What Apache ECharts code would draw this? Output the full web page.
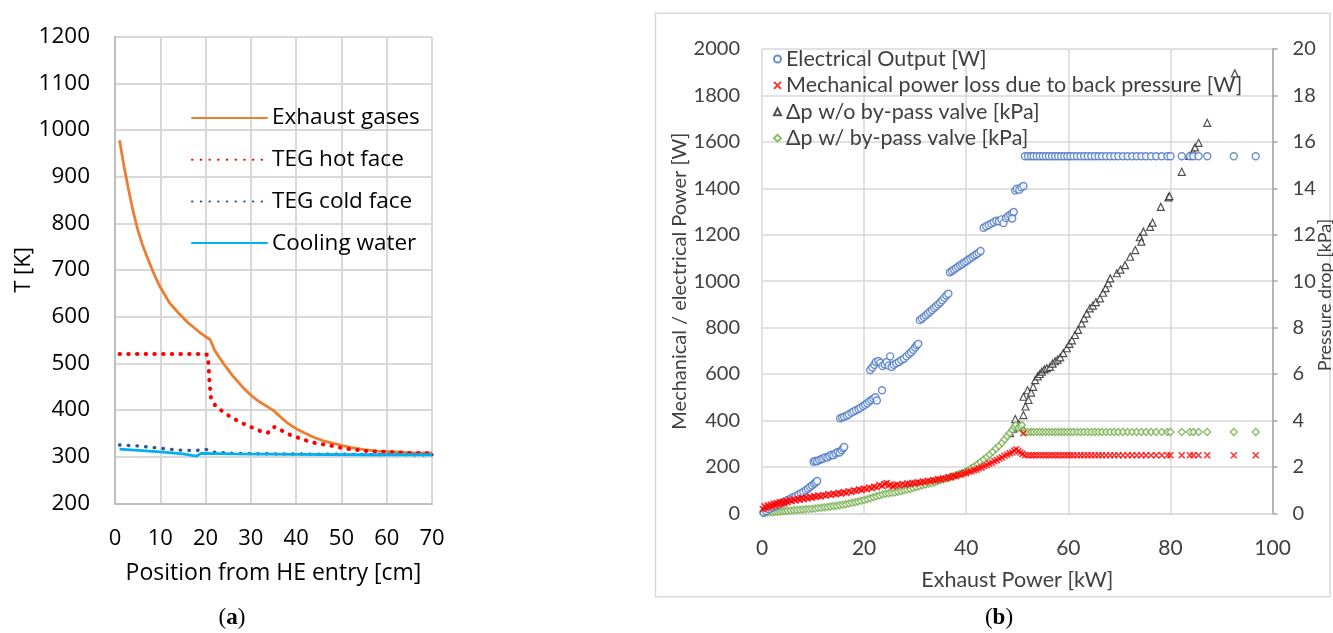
<!DOCTYPE html>
<html>
<head>
<meta charset="utf-8">
<script src="https://cdn.jsdelivr.net/npm/echarts@6/dist/echarts.min.js"></script>
<style>
  html, body { margin: 0; padding: 0; background: #fff; }
  #chart { width: 1333px; height: 633px; }
</style>
</head>
<body>
<div id="chart"></div>
<script>
// ---------- (a) temperature profiles along the heat exchanger [cm, K] ----------
const exhaustGases = [[1,978],[2,922],[3,872],[4,826],[5,787],[6,756],[7,730],[8,706],[9,683],[10,663],
  [11,647],[12,630],[13,619],[14,608],[15,598],[16,588],[17,580],[18,572],[19,564],[20,557],[21,551],
  [22,528],[23,513],[24,499],[25,486],[26,473],[27,462],[28,451],[29,441],[30,432],[31,424],[32,417],
  [33,411],[34,405],[35,399],[36,390],[37,381],[38,373],[39,366],[40,360],[42,350],[44,341],[46,334],
  [48,329],[50,324],[52,320],[55,315],[58,312],[62,310],[66,308],[70,308]];
const tegHotFace = [[1,520],[20,520],[20.5,517],[20.7,490],[20.9,455],[21.2,425],[22.3,407],[23.9,396],
  [25.4,386],[27.2,376],[28.9,368],[30.6,361],[32.3,354],[33.6,351],[34.4,354],[35.2,364],[36.2,359],
  [37,355],[38.8,346],[40.6,340],[42.4,334],[44.3,329],[46.2,326],[48,323],[49.9,319],[51.9,316],
  [53.7,314],[55.5,312],[60,310],[65,308],[70,307]];
const tegColdFace = [[1,325],[5,323],[10,318],[14,314],[18,313],[20,316],[21.5,310],[26,307],[34,306],
  [50,305],[70,304]];
const coolingWater = [[1,316],[10,310],[15,306],[18,301],[19,307],[26,306],[40,305],[55,304],[70,304]];

// ---------- (b) power and pressure drop vs exhaust power [kW] ----------
const electricalOutput = [
  [0.3,4],[0.8,10],[1.4,17],[2.0,24],[2.6,30],[3.2,37],[3.8,44],[4.4,50],[5.0,57],[5.6,63],[6.1,69],
  [6.6,74],[7.1,80],[7.6,86],[8.1,92],[8.6,99],[9.0,106],[9.4,113],[9.8,120],[10.2,127],[10.5,133],[10.8,139],
  [10.1,222],[10.4,226],[10.8,224],[11.2,230],[11.6,233],[12.0,236],[12.4,242],[12.8,240],[13.2,247],
  [13.6,252],[14.0,250],[14.4,258],[14.8,264],[15.2,262],[15.6,272],[15.9,280],[16.1,286],
  [15.3,409],[15.7,413],[16.1,416],[16.6,420],[17.0,426],[17.5,433],[17.9,438],[18.4,444],[18.9,449],
  [19.3,455],[19.8,462],[20.2,468],[20.6,474],[21.0,482],[21.4,488],[21.8,494],[22.2,500],[22.5,486],[23.5,530],
  [21.2,617],[21.6,628],[22.0,640],[22.3,652],[22.8,656],[23.2,648],[23.6,634],[24.0,642],[24.4,652],
  [24.8,636],[25.1,676],[25.4,630],[25.8,640],[26.3,646],[26.8,652],[27.3,660],[27.8,666],[28.3,676],
  [28.8,686],[29.2,694],[29.6,704],[30.0,714],[30.3,724],[30.6,730],
  [30.9,832],[31.3,838],[31.7,846],[32.1,853],[32.5,861],[32.9,868],[33.3,876],[33.7,884],[34.1,892],
  [34.5,900],[34.9,908],[35.3,918],[35.7,928],[36.1,938],[36.5,946],
  [36.8,1038],[37.2,1044],[37.6,1050],[38.0,1056],[38.4,1062],[38.8,1068],[39.2,1074],[39.6,1080],
  [40.0,1086],[40.4,1092],[40.8,1098],[41.2,1104],[41.6,1110],[42.0,1116],[42.4,1122],[42.8,1130],
  [43.4,1230],[43.9,1236],[44.4,1242],[44.9,1248],[45.4,1254],[45.9,1260],[46.4,1258],[46.9,1266],
  [47.3,1250],[47.8,1272],[48.2,1280],[48.6,1286],[49.0,1292],[49.3,1298],[49.0,1270],
  [49.6,1390],[49.9,1398],[50.4,1394],[50.8,1404],[51.2,1410],
  [51.5,1538],[52.1,1538],[52.7,1538],[53.2,1538],[53.8,1538],[54.4,1538],[55.0,1538],[55.6,1538],
  [56.2,1538],[56.8,1538],[57.4,1538],[58.0,1538],[58.6,1538],[59.2,1538],[59.8,1538],[60.4,1538],
  [61.0,1538],[61.7,1538],[62.4,1538],[63.1,1538],[63.8,1538],[64.5,1538],[65.2,1538],[65.9,1538],
  [66.6,1538],[67.4,1538],[68.2,1538],[69.0,1538],[69.8,1538],[70.7,1538],[71.6,1538],[72.5,1538],
  [73.4,1538],[74.3,1538],[75.2,1538],[76.2,1538],[77.2,1538],[78.3,1538],[79.4,1538],[80.0,1538],
  [82.2,1538],[83.8,1538],[84.5,1538],[85.5,1538],[87.2,1538],[92.4,1538],[96.7,1538]];

const mechanicalLoss = [
  [0.2,18],[0.5,30],[0.8,22],[1.1,34],[1.4,26],[1.7,38],[2.0,30],[2.3,42],[2.6,34],[2.9,44],[3.2,38],
  [3.5,48],[3.8,41],[4.1,50],[4.4,44],[4.7,54],[5.0,48],[5.4,57],[5.8,52],[6.2,60],[6.6,55],[7.0,63],
  [7.4,58],[7.8,66],[8.2,61],[8.6,68],[9.0,64],[9.4,71],[9.8,67],[10.2,74],[10.6,70],[11.0,76],[11.5,73],
  [12.0,79],[12.5,76],[13.0,82],[13.5,79],[14.0,85],[14.5,82],[15.0,88],[15.5,85],[16.0,91],[16.5,88],
  [17.0,95],[17.5,92],[18.0,99],[18.5,96],[19.0,103],[19.5,100],[20.0,107],[20.5,104],[21.0,111],
  [21.5,108],[22.0,115],[22.5,112],[23.0,122],[23.5,118],[24.0,126],[24.4,130],[24.8,120],[25.2,124],
  [25.6,116],[26.0,120],[26.5,124],[27.0,121],[27.5,126],[28.0,123],[28.5,128],[29.0,126],[29.5,131],
  [30.0,129],[30.5,134],[31.0,132],[31.5,137],[32.0,135],[32.5,140],[33.0,138],[33.5,143],[34.0,142],
  [34.5,147],[35.0,146],[35.5,151],[36.0,150],[36.5,156],[37.0,155],[37.5,161],[38.0,160],[38.5,166],
  [39.0,166],[39.5,172],[40.0,173],[40.5,179],[41.0,180],[41.5,186],[42.0,188],[42.5,194],[43.0,197],
  [43.5,204],[44.0,207],[44.5,214],[45.0,218],[45.5,225],[46.0,229],[46.5,236],[47.0,241],[47.5,248],
  [48.0,252],[48.5,258],[49.0,262],[49.4,270],[49.8,276],[50.2,268],[50.6,262],[51.0,256],[51.2,345],
  [51.5,250],[52.1,250],[52.7,250],[53.2,250],[53.8,250],[54.4,250],[55.0,250],[55.6,250],
  [56.2,250],[56.8,250],[57.4,250],[58.0,250],[58.6,250],[59.2,250],[59.8,250],[60.4,250],
  [61.0,250],[61.7,250],[62.4,250],[63.1,250],[63.8,250],[64.5,250],[65.2,250],[65.9,250],
  [66.6,250],[67.4,250],[68.2,250],[69.0,250],[69.8,250],[70.7,250],[71.6,250],[72.5,250],
  [73.4,250],[74.3,250],[75.2,250],[76.2,250],[77.2,250],[78.3,250],[79.4,250],[80.0,250],
  [82.2,250],[83.8,250],[84.5,250],[85.5,250],[87.2,250],[92.4,250],[96.7,250]];

const dpWithoutBypass = [
  [48.6,3.45],[49.2,3.65],[49.6,4.06],[50.3,3.85],[50.9,3.73],[51.2,4.23],[51.2,5.02],[51.6,4.6],
  [52.0,5.3],[52.2,4.88],[52.7,5.2],[53.1,5.45],[53.5,5.74],[54.0,5.9],[54.4,6.0],[54.8,6.1],[55.3,6.2],
  [55.8,6.25],[56.4,6.31],[56.9,6.45],[57.4,6.55],[57.9,6.62],[58.4,6.72],[59.0,6.9],[59.7,7.11],
  [60.2,7.3],[60.7,7.45],[61.3,7.68],[61.9,7.9],[62.6,8.18],[63.1,8.4],[63.6,8.6],[64.2,8.83],
  [64.8,8.95],[65.4,9.1],[66.2,9.26],[66.8,9.5],[67.3,9.7],[67.8,9.91],[68.2,10.12],[69.5,10.34],
  [70.2,10.5],[71.1,10.69],[72.1,11.05],[73.1,11.34],[74.0,11.89],[74.3,11.7],[74.7,12.13],[76.0,12.34],
  [76.5,12.52],[78.1,13.2],[79.6,13.61],[79.8,13.66],[82.2,14.71],[83.7,15.39],[84.2,15.45],[84.4,15.57],
  [84.8,15.76],[85.5,15.96],[87.2,16.82],[92.6,18.95]];

const dpWithBypass = [
  [0.2,0.0],[0.6,0.02],[1.0,0.03],[1.5,0.04],[2.0,0.05],[2.5,0.06],[3.0,0.07],[3.5,0.08],[4.0,0.09],
  [4.5,0.10],[5.0,0.11],[5.6,0.12],[6.2,0.13],[6.8,0.14],[7.4,0.15],[8.0,0.16],[8.6,0.17],[9.2,0.18],
  [9.8,0.20],[10.4,0.21],[11.0,0.23],[11.6,0.24],[12.2,0.26],[12.8,0.27],[13.4,0.29],[14.0,0.31],
  [14.6,0.33],[15.2,0.35],[15.8,0.37],[16.4,0.39],[17.0,0.42],[17.6,0.45],[18.2,0.48],[18.8,0.51],
  [19.4,0.54],[20.0,0.57],[20.6,0.61],[21.2,0.65],[21.8,0.69],[22.4,0.73],[23.0,0.77],[23.6,0.81],
  [24.2,0.84],[24.8,0.86],[25.4,0.88],[26.0,0.90],[26.6,0.93],[27.2,0.96],[27.8,0.99],[28.4,1.02],
  [29.0,1.05],[29.6,1.09],[30.2,1.13],[30.8,1.17],[31.4,1.21],[32.0,1.24],[32.6,1.27],[33.2,1.30],
  [33.8,1.34],[34.4,1.38],[35.0,1.42],[35.6,1.46],[36.2,1.50],[36.8,1.54],[37.4,1.59],[38.0,1.64],
  [38.6,1.69],[39.2,1.74],[39.8,1.79],[40.4,1.86],[41.0,1.94],[41.6,2.02],[42.2,2.11],[42.8,2.21],
  [43.4,2.32],[44.0,2.42],[44.6,2.53],[45.2,2.65],[45.8,2.78],[46.4,2.91],[47.0,3.04],[47.5,3.18],
  [48.0,3.32],[48.5,3.46],[49.0,3.60],[49.4,3.72],[49.7,3.80],[50.2,3.68],[50.6,3.74],[50.9,3.80],
  [51.2,3.55],
  [51.5,3.5],[52.1,3.5],[52.7,3.5],[53.2,3.5],[53.8,3.5],[54.4,3.5],[55.0,3.5],[55.6,3.5],
  [56.2,3.5],[56.8,3.5],[57.4,3.5],[58.0,3.5],[58.6,3.5],[59.2,3.5],[59.8,3.5],[60.4,3.5],
  [61.0,3.5],[61.7,3.5],[62.4,3.5],[63.1,3.5],[63.8,3.5],[64.5,3.5],[65.2,3.5],[65.9,3.5],
  [66.6,3.5],[67.4,3.5],[68.2,3.5],[69.0,3.5],[69.8,3.5],[70.7,3.5],[71.6,3.5],[72.5,3.5],
  [73.4,3.5],[74.3,3.5],[75.2,3.5],[76.2,3.5],[77.2,3.5],[78.3,3.5],[79.4,3.5],[80.0,3.5],
  [82.2,3.5],[83.8,3.5],[84.5,3.5],[85.5,3.5],[87.2,3.5],[92.4,3.5],[96.7,3.5]];

const FONT_A = 'Open Sans';
const FONT_B = 'Lato';
const GRID_LINE = '#d9d9d9';
const CROSS = 'path://M0,0L10,10M10,0L0,10';
const plainNumber = v => String(v);

const chart = echarts.init(document.getElementById('chart'), null, { renderer: 'canvas' });

chart.setOption({
  animation: false,
  backgroundColor: '#ffffff',
  grid: [
    { left: 115, top: 36.7, width: 317, height: 466.6 },
    { left: 762, top: 49, width: 510.6, height: 464.3 }
  ],
  legend: [
    {
      data: ['Exhaust gases', 'TEG hot face', 'TEG cold face', 'Cooling water'],
      orient: 'vertical', left: 191, top: 104, padding: 0,
      itemWidth: 75, itemHeight: 14, itemGap: 13.7,
      itemStyle: { opacity: 0 },
      lineStyle: { cap: 'round' },
      textStyle: { fontFamily: FONT_A, fontSize: 22.5, color: '#000', lineHeight: 28 }
    },
    {
      data: ['Electrical Output [W]', 'Mechanical power loss due to back pressure [W]',
             'Δp w/o by-pass valve [kPa]', 'Δp w/ by-pass valve [kPa]'],
      orient: 'vertical', left: 773, top: 48, padding: 0,
      itemWidth: 7, itemHeight: 7, itemGap: 4.4,
      textStyle: { fontFamily: FONT_B, fontSize: 21.5, color: '#404040', lineHeight: 21 }
    }
  ],
  xAxis: [
    {
      gridIndex: 0, type: 'value', min: 0, max: 70, interval: 10,
      axisLine: { show: true, lineStyle: { color: '#bfbfbf', width: 2 } },
      axisTick: { show: false },
      splitLine: { show: true, lineStyle: { color: GRID_LINE, width: 2 } },
      axisLabel: { fontFamily: FONT_A, fontSize: 22, color: '#000', margin: 24, formatter: plainNumber },
      name: 'Position from HE entry [cm]', nameLocation: 'middle', nameGap: 59,
      nameTextStyle: { fontFamily: FONT_A, fontSize: 23, color: '#000' }
    },
    {
      gridIndex: 1, type: 'value', min: 0, max: 100, interval: 20,
      axisLine: { show: true, lineStyle: { color: GRID_LINE, width: 1.5 } },
      axisTick: { show: false },
      splitLine: { show: true, lineStyle: { color: GRID_LINE, width: 1.5 } },
      axisLabel: { fontFamily: FONT_B, fontSize: 21, color: '#404040', margin: 24, formatter: plainNumber },
      name: 'Exhaust Power [kW]', nameLocation: 'middle', nameGap: 56,
      nameTextStyle: { fontFamily: FONT_B, fontSize: 21.5, color: '#404040' }
    }
  ],
  yAxis: [
    {
      gridIndex: 0, type: 'value', min: 200, max: 1200, interval: 100,
      axisLine: { show: true, lineStyle: { color: '#bfbfbf', width: 2 } },
      axisTick: { show: false },
      splitLine: { show: true, lineStyle: { color: GRID_LINE, width: 2 } },
      axisLabel: { fontFamily: FONT_A, fontSize: 22.5, color: '#000', margin: 25, formatter: plainNumber },
      name: 'T [K]', nameLocation: 'middle', nameGap: 75, nameRotate: 90,
      nameTextStyle: { fontFamily: FONT_A, fontSize: 22, color: '#000' }
    },
    {
      gridIndex: 1, type: 'value', min: 0, max: 2000, interval: 200,
      axisLine: { show: false },
      axisTick: { show: false },
      splitLine: { show: true, lineStyle: { color: GRID_LINE, width: 1.5 } },
      axisLabel: { fontFamily: FONT_B, fontSize: 20, color: '#404040', margin: 22, formatter: plainNumber },
      name: 'Mechanical / electrical Power [W]', nameLocation: 'middle', nameGap: 59, nameRotate: 90,
      nameTextStyle: { fontFamily: FONT_B, fontSize: 20, color: '#404040' }
    },
    {
      gridIndex: 1, type: 'value', position: 'right', min: 0, max: 20, interval: 2,
      axisLine: { show: true, lineStyle: { color: '#a6a6a6', width: 1.5 } },
      axisTick: { show: true, inside: false, length: 5, lineStyle: { color: '#a6a6a6', width: 1.5 } },
      splitLine: { show: false },
      axisLabel: { fontFamily: FONT_B, fontSize: 20, color: '#404040', margin: 20, formatter: plainNumber }
    }
  ],
  graphic: [
    {
      type: 'rect', silent: true, z: -1,
      shape: { x: 655.5, y: 13.3, width: 674.5, height: 583.4 },
      style: { fill: 'none', stroke: GRID_LINE, lineWidth: 1.5 }
    },
    {
      type: 'text', x: 1325, y: 295, rotation: Math.PI / 2,
      style: { text: 'Pressure drop [kPa]', fontFamily: FONT_B, fontSize: 18, fill: '#404040',
               align: 'center', verticalAlign: 'middle' }
    },
    {
      type: 'text', x: 232, y: 618,
      style: {
        text: '{n|(}{b|a}{n|)}', align: 'center', verticalAlign: 'middle',
        rich: {
          n: { fontFamily: 'Liberation Serif', fontSize: 23, fill: '#000' },
          b: { fontFamily: 'Liberation Serif', fontSize: 23, fontWeight: 'bold', fill: '#000' }
        }
      }
    },
    {
      type: 'text', x: 999, y: 618,
      style: {
        text: '{n|(}{b|b}{n|)}', align: 'center', verticalAlign: 'middle',
        rich: {
          n: { fontFamily: 'Liberation Serif', fontSize: 23, fill: '#000' },
          b: { fontFamily: 'Liberation Serif', fontSize: 23, fontWeight: 'bold', fill: '#000' }
        }
      }
    }
  ],
  series: [
    {
      name: 'Exhaust gases', type: 'line', xAxisIndex: 0, yAxisIndex: 0,
      data: exhaustGases, showSymbol: false, symbol: 'none',
      lineStyle: { color: '#ED7D31', width: 2.8 }, itemStyle: { color: '#ED7D31' }
    },
    {
      name: 'TEG hot face', type: 'line', xAxisIndex: 0, yAxisIndex: 0,
      data: tegHotFace, showSymbol: false, symbol: 'none',
      lineStyle: { color: '#FF0000', width: 4, type: [0.5, 8.2], cap: 'round' },
      itemStyle: { color: '#FF0000' }
    },
    {
      name: 'TEG cold face', type: 'line', xAxisIndex: 0, yAxisIndex: 0,
      data: tegColdFace, showSymbol: false, symbol: 'none',
      lineStyle: { color: '#2F5597', width: 3.4, type: [0.5, 8.2], cap: 'round' },
      itemStyle: { color: '#2F5597' }
    },
    {
      name: 'Cooling water', type: 'line', xAxisIndex: 0, yAxisIndex: 0,
      data: coolingWater, showSymbol: false, symbol: 'none',
      lineStyle: { color: '#00B0F0', width: 2.8 }, itemStyle: { color: '#00B0F0' }
    },
    {
      name: 'Δp w/o by-pass valve [kPa]', type: 'scatter', xAxisIndex: 1, yAxisIndex: 2,
      data: dpWithoutBypass, symbol: 'triangle', symbolSize: 7,
      itemStyle: { color: '#ffffff', borderColor: '#262626', borderWidth: 1.2 }
    },
    {
      name: 'Δp w/ by-pass valve [kPa]', type: 'scatter', xAxisIndex: 1, yAxisIndex: 2,
      data: dpWithBypass, symbol: 'diamond', symbolSize: 7,
      itemStyle: { color: '#ffffff', borderColor: '#70AD47', borderWidth: 1.4 }
    },
    {
      name: 'Electrical Output [W]', type: 'scatter', xAxisIndex: 1, yAxisIndex: 1,
      data: electricalOutput, symbol: 'circle', symbolSize: 7,
      itemStyle: { color: '#ffffff', borderColor: '#4472C4', borderWidth: 1.4 }
    },
    {
      name: 'Mechanical power loss due to back pressure [W]', type: 'scatter', xAxisIndex: 1, yAxisIndex: 1,
      data: mechanicalLoss, symbol: CROSS, symbolSize: 6,
      itemStyle: { color: 'rgba(0,0,0,0)', borderColor: '#FF0000', borderWidth: 1.6 }
    }
  ]
});
</script>
</body>
</html>
